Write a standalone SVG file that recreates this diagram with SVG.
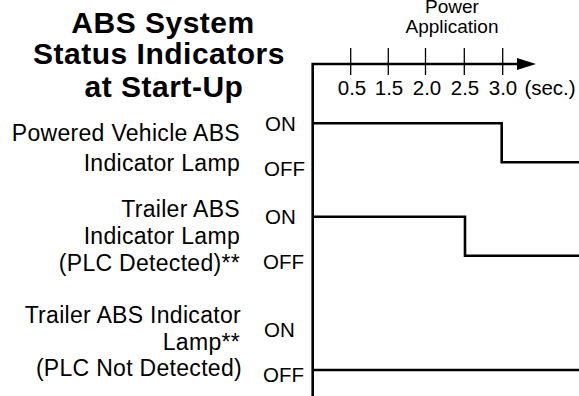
<svg xmlns="http://www.w3.org/2000/svg" width="579" height="396" viewBox="0 0 579 396">
<style>
text{font-family:"Liberation Sans",Arial,sans-serif;fill:#000}
.title{font-size:30px;font-weight:bold;text-anchor:middle;letter-spacing:0.5px}
.lbl{font-size:23px;text-anchor:end;letter-spacing:0.3px}
.st{font-size:20.5px}
.tk{font-size:20.5px;text-anchor:middle}
.ax{stroke:#000;stroke-width:2.6;fill:none}
.sig{stroke:#000;stroke-width:2.6;fill:none}
.tick{stroke:#000;stroke-width:1.3}
</style>
<defs>
<marker id="arr" markerWidth="20" markerHeight="14" refX="0" refY="6" orient="auto" markerUnits="userSpaceOnUse">
<path d="M0,0 L19,6 L0,12 Z" fill="#000"/>
</marker>
</defs>
<rect width="579" height="396" fill="#fff"/>
<g id="title">
<text class="title" x="163" y="33">ABS System</text>
<text class="title" x="159" y="64">Status Indicators</text>
<text class="title" x="164" y="97">at Start-Up</text>
</g>
<g id="axis">
<text class="tk" x="452" y="13" style="font-size:19px">Power</text>
<text class="tk" x="452" y="33" style="font-size:19px">Application</text>
<path class="ax" d="M312.7,396 V64 H517" marker-end="url(#arr)"/>
<line class="tick" x1="350.7" y1="48" x2="350.7" y2="75"/>
<line class="tick" x1="388.3" y1="48" x2="388.3" y2="75"/>
<line class="tick" x1="425.5" y1="48" x2="425.5" y2="75"/>
<line class="tick" x1="464.3" y1="48" x2="464.3" y2="75"/>
<line class="tick" x1="502.7" y1="48" x2="502.7" y2="75"/>
<text class="tk" x="352" y="95">0.5</text>
<text class="tk" x="389" y="95">1.5</text>
<text class="tk" x="427" y="95">2.0</text>
<text class="tk" x="465" y="95">2.5</text>
<text class="tk" x="503" y="95">3.0</text>
<text class="tk" x="550" y="95">(sec.)</text>
</g>
<g id="powered-vehicle">
<text class="lbl" x="240" y="141">Powered Vehicle ABS</text>
<text class="lbl" x="240" y="171">Indicator Lamp</text>
<text class="st" x="265" y="131">ON</text>
<text class="st" x="264" y="176">OFF</text>
</g>
<g id="trailer-plc-detected">
<text class="lbl" x="240" y="217">Trailer ABS</text>
<text class="lbl" x="240" y="244">Indicator Lamp</text>
<text class="lbl" x="240" y="271">(PLC Detected)**</text>
<text class="st" x="265" y="224">ON</text>
<text class="st" x="263" y="269">OFF</text>
</g>
<g id="trailer-plc-not-detected">
<text class="lbl" x="241" y="323">Trailer ABS Indicator</text>
<text class="lbl" x="240" y="350">Lamp**</text>
<text class="lbl" x="242" y="376">(PLC Not Detected)</text>
<text class="st" x="264" y="337">ON</text>
<text class="st" x="263" y="382">OFF</text>
</g>
<g id="connectors">
<path class="sig" d="M312.7,123.3 H501.7 V162.3 H579"/>
<path class="sig" d="M312.7,216.7 H465 V255.7 H579"/>
<path class="sig" d="M312.7,370 H579"/>
</g>
</svg>
